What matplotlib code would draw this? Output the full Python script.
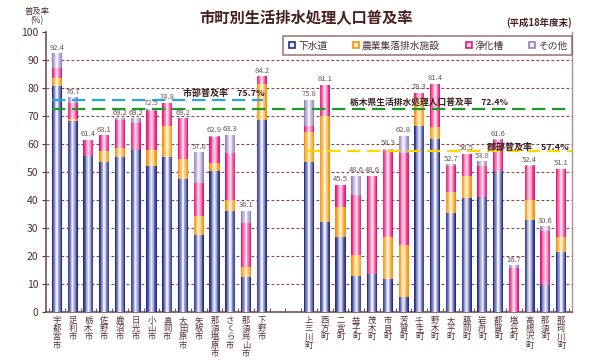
#!/usr/bin/env python3

import numpy as np
import matplotlib.pyplot as plt
from matplotlib.colors import to_rgb
from matplotlib.lines import Line2D

plt.rcParams['font.family'] = ['Noto Sans CJK JP', 'DejaVu Sans']

cities = ['宇都宮市', '足利市', '栃木市', '佐野市', '鹿沼市', '日光市', '小山市',
          '真岡市', '大田原市', '矢板市', '那須塩原市', 'さくら市', '那須烏山市', '下野市']
towns = ['上三川町', '西方町', '二宮町', '益子町', '茂木町', '市貝町', '芳賀町', '壬生町',
         '野木町', '大平町', '藤岡町', '岩舟町', '都賀町', '塩谷町', '高根沢町', '那須町', '那珂川町']

# 下水道 / 農業集落排水施設 / 浄化槽, total rate (その他 = rest)
city_sewer = [80.8, 68.3, 55.7, 53.7, 55.4, 57.7, 52.1, 55.4, 47.4, 27.5, 50.5, 36.2, 12.4, 68.6]
city_agri = [2.6, 0.5, 0.0, 3.8, 3.1, 0.0, 5.6, 11.1, 7.2, 6.9, 2.6, 3.8, 3.8, 12.9]
city_septic = [3.9, 5.7, 5.7, 5.6, 10.0, 9.7, 14.1, 8.0, 14.6, 11.6, 9.5, 16.7, 15.5, 2.7]
city_total = [92.4, 76.7, 61.4, 63.1, 69.2, 69.2, 72.5, 74.8, 69.2, 57.0, 62.9, 63.3, 36.1, 84.2]

town_sewer = [53.7, 32.3, 26.7, 13.0, 13.5, 11.9, 5.5, 66.5, 61.7, 35.4, 40.8, 41.2, 50.4, 0.0, 32.9, 9.5, 21.5]
town_agri = [10.4, 37.6, 10.9, 7.4, 0.0, 15.0, 18.5, 9.4, 4.5, 7.6, 7.8, 0.0, 0.0, 0.0, 7.1, 0.0, 5.2]
town_septic = [2.4, 11.2, 7.9, 21.4, 35.1, 30.6, 32.7, 2.4, 15.2, 9.3, 7.9, 10.9, 11.0, 15.8, 12.0, 19.5, 24.4]
town_total = [75.8, 81.1, 45.5, 48.6, 48.6, 58.3, 62.8, 78.3, 81.4, 52.7, 56.5, 53.8, 61.6, 16.7, 52.4, 30.6, 51.1]

city_rate = 75.7
pref_rate = 72.4
town_rate = 57.4

series_names = ['下水道', '農業集落排水施設', '浄化槽', 'その他']
dark = ['#232f8c', '#f5930a', '#e6157a', '#9482c2']
light = ['#ecebf8', '#fff0cc', '#ffd6e8', '#f6f2fb']

brown = '#5a3232'


def mix(c1, c2, t):
    a, b = np.array(to_rgb(c1)), np.array(to_rgb(c2))
    return tuple(a + (b - a) * t)


def main():
    n_c = len(cities)
    xc = np.arange(n_c)
    xt = np.arange(len(towns)) + n_c + 2
    x = np.concatenate([xc, xt])
    sewer = np.array(city_sewer + town_sewer)
    agri = np.array(city_agri + town_agri)
    septic = np.array(city_septic + town_septic)
    total = np.array(city_total + town_total)
    other = np.clip(total - sewer - agri - septic, 0, None)

    fig = plt.figure(figsize=(6, 3.6), dpi=100)
    ax = fig.add_axes([0.076, 0.1333, 0.877, 0.778])

    # cylinder look: stack of narrower, lighter bars
    width = 0.64
    layers = 7
    bottom = np.zeros(len(x))
    for vals, c1, c2 in zip([sewer, agri, septic, other], dark, light):
        for k in range(layers):
            t = k / (layers - 1)
            ax.bar(x, vals, bottom=bottom, width=width * (1 - 0.85 * t),
                   color=mix(c1, c2, t ** 1.1), linewidth=0, zorder=3)
        bottom = bottom + vals

    for xi, tot in zip(x, total):
        ax.text(xi, tot + 0.6, f'{tot:.1f}', ha='center', va='bottom',
                fontsize=5.5, color='#6a5656', zorder=5)

    ax.set_xlim(-0.72, 32.68)
    ax.set_ylim(0, 100)

    # reference lines
    ax.hlines(city_rate, -0.32, 13.1, colors='#2aa6de', lw=1.6,
              linestyles=(0, (6, 3)), zorder=4)
    ax.hlines(pref_rate, -0.32, 32.68, colors='#1e9a2a', lw=1.6,
              linestyles=(0, (6, 3)), zorder=4)
    ax.hlines(town_rate, 15.85, 32.68, colors='#ffd700', lw=1.6,
              linestyles=(0, (6, 3)), zorder=4)
    ax.text(8.0, 77.9, f'市部普及率　{city_rate}%', fontsize=6.5, fontweight='bold',
            color='#3a2020', va='center', ha='left', zorder=6)
    ax.text(18.6, 74.6, f'栃木県生活排水処理人口普及率　{pref_rate}%', fontsize=6.3,
            fontweight='bold', color='#3a2020', va='center', ha='left', zorder=6)
    ax.text(27.3, 58.9, f'郡部普及率　{town_rate}%', fontsize=6.5, fontweight='bold',
            color='#3a2020', va='center', ha='left', zorder=6)

    # axes styling
    ax.set_yticks(np.arange(0, 101, 10))
    ax.tick_params(axis='y', direction='out', length=3, color=brown,
                   labelsize=7.5, labelcolor='#4a3030', pad=2)
    ax.yaxis.grid(True, color='#8b4444', lw=0.8, linestyle=(0, (2.5, 2)))
    gl = ax.get_ygridlines()
    gl[0].set_visible(False)
    gl[-1].set_visible(False)
    ax.set_axisbelow(True)

    ax.set_xticks(x)
    ax.set_xticklabels(['\n'.join(nm) for nm in cities + towns], fontsize=6,
                       color=brown, linespacing=0.88, va='top')
    ax.tick_params(axis='x', length=0, pad=3)
    ax.set_xticks(np.arange(-0.5, 33, 1), minor=True)
    ax.tick_params(axis='x', which='minor', direction='in', length=3, color=brown)

    ax.spines['top'].set_visible(False)
    ax.spines['left'].set_color('#7a5050')
    ax.spines['left'].set_linewidth(1.2)
    ax.spines['bottom'].set_color('#7a5050')
    ax.spines['bottom'].set_linewidth(1.2)
    ax.spines['right'].set_color('#b09090')
    ax.spines['right'].set_linewidth(1.0)

    handles = [Line2D([], [], marker='s', linestyle='none', markersize=4.5,
                      markerfacecolor=l, markeredgecolor=d, markeredgewidth=1.2)
               for d, l in zip(dark, light)]
    leg = fig.legend(handles, series_names, loc='lower left', ncol=4, mode='expand',
                     bbox_to_anchor=(0.472, 0.847, 0.481, 0.064), fontsize=7,
                     frameon=True, fancybox=False, handletextpad=0.1,
                     borderaxespad=0, handlelength=1.0, borderpad=0.45)
    leg.get_frame().set_edgecolor('#8b5a5a')
    leg.get_frame().set_linewidth(1.2)
    for t in leg.get_texts():
        t.set_color('#4a3030')

    fig.text(0.51, 0.95, '市町別生活排水処理人口普及率', ha='center', va='center',
             fontsize=11, fontweight='bold', color='#4a2020')
    fig.text(0.953, 0.937, '(平成18年度末)', ha='right', va='center',
             fontsize=6.8, fontweight='bold', color='#4a2020')
    fig.text(0.062, 0.955, '普及率\n(%)', ha='center', va='center',
             fontsize=6, color='#4a3030', linespacing=1.0)

    plt.savefig('out.png', dpi=100)


if __name__ == '__main__':
    main()
